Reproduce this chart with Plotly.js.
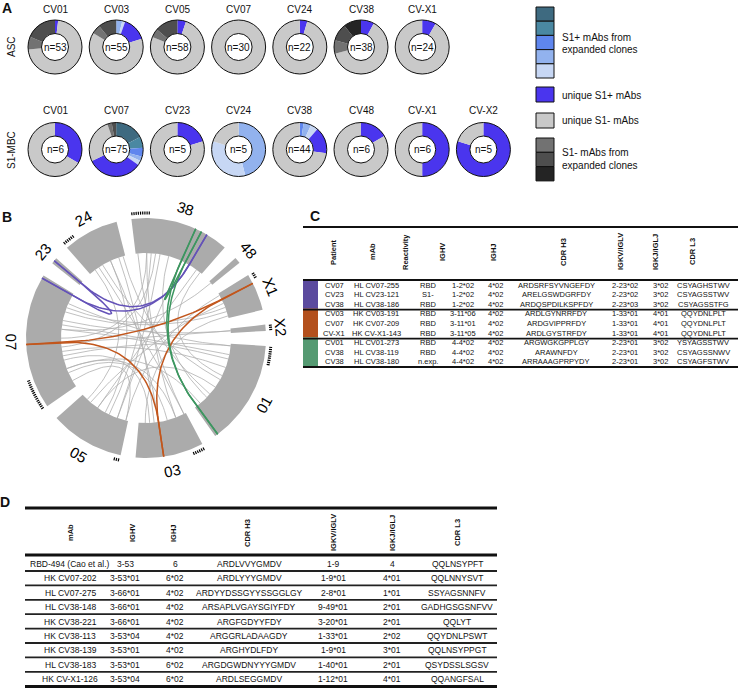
<!DOCTYPE html>
<html><head><meta charset="utf-8">
<script src="https://cdn.plot.ly/plotly-3.0.1.min.js"></script>
<style>body{margin:0;background:#fff}#chart{width:738px;height:688px}</style>
</head><body><div id="chart"></div>
<script>
const W=738,H=688;
const FONT='Liberation Sans, Arial, Helvetica, sans-serif';

// ---------- Panel A data ----------
const ascDonors=['CV01','CV03','CV05','CV07','CV24','CV38','CV-X1'];
const ascN=[53,55,58,30,22,38,24];
const ascValues=[[1,38,4,10],[2,1,8,35,3,6],[3,44,3,8],[30],[1,21],[3,24,3,4,4],[2,22]];
const ascCats=[['u+','u-','e-1','e-2'],['e+4','e+5','u+','u-','e-1','e-2'],['u+','u-','e-1','e-2'],['u-'],['u+','u-'],['u+','u-','e-1','e-2','e-3'],['u+','u-']];
const mbcDonors=['CV01','CV07','CV23','CV24','CV38','CV48','CV-X1','CV-X2'];
const mbcN=[6,75,5,5,44,6,6,5];
const mbcValues=[[2,4],[13,5,4,2,2,25,20,2,2],[1,4],[2.3,1.7,1],[1,2,2,7,32],[1,5],[3,3],[4,1]];
const mbcCats=[['u+','u-'],['e+1','e+2','e+3','e+4','e+5','u+','u-','e-1','e-2'],['u+','u-'],['e+4','e+5','u-'],['e+3','e+4','e+5','u+','u-'],['u+','u-'],['u+','u-'],['u+','u-']];
const catColors={'u+':'#4a35ee','u-':'#c9c9c9','e+1':'#3e6a80','e+2':'#4a88a2','e+3':'#5f86ee','e+4':'#92b2ee','e+5':'#c7d7f4','e-1':'#727272','e-2':'#4e4e4e','e-3':'#242424'};
const legendPlus=['e+1','e+2','e+3','e+4','e+5'];
const legendMinus=['e-1','e-2','e-3'];

// ---------- Panel B data ----------
const chordGroups=['38','48','X1','X2','01','03','05','07','23','24'];
const groupSizes=[16,1,6,1,17,11,12,22,1,9];
// [groupA, slotA, groupB, slotB]
const grayChords=[
 ['07',18,'X1',3],['07',17,'X1',4],['07',15,'X2',0],['07',14,'01',2],['07',13,'01',3],['07',8,'01',5],
 ['07',7,'01',0],['07',4,'03',2],['07',3,'03',4],['07',1,'05',0],['05',2,'38',5],['05',4,'38',3],
 ['05',5,'24',5],['05',7,'38',14],['05',9,'X1',2],['03',0,'24',2],['03',7,'24',7],['03',2,'38',2],
 ['03',8,'07',6],['24',3,'01',8],['24',8,'01',12],['24',1,'05',10],['38',7,'01',13],['38',15,'01',7],
 ['38',2,'07',11],['38',4,'07',9],['48',0,'07',13],['X1',0,'05',0],['X1',5,'03',9],['01',10,'05',7],
 ['01',15,'07',4],['01',0,'07',19],['38',10,'05',2],['38',0,'03',0],['X2',0,'07',10],['24',5,'03',6]];
const purpleChords=[['07',21,'38',12],['23',0,'38',12],['07',21,'23',0]];
const orangeChords=[['07',10,'X1',1],['07',10,'03',6],['X1',1,'03',6]];
const greenChords=[['01',16,'38',10],['01',16,'38',11],['38',10,'38',11]];
const tickSlots={'38':[0,1,2],'24':[0,1],'07':[0,1,2,3,4],'05':[0],'03':[0,1],'01':[0,1,2],'X1':[0],'X2':[0]};

// ---------- Panel C data ----------
const cHeaders=['Patient','mAb','Reactivity','IGHV','IGHJ','CDR H3','IGKV/IGLV','IGKJ/IGLJ','CDR L3'];
const cPatient=['CV07','CV23','CV38','CV03','CV07','CV-X1','CV01','CV38','CV38'];
const cMab=['HL CV07-255','HL CV23-121','HL CV38-186','HK CV03-191','HK CV07-209','HK CV-X1-143','HL CV01-273','HL CV38-119','HL CV38-180'];
const cReact=['RBD','S1-','RBD','RBD','RBD','RBD','RBD','RBD','n.exp.'];
const cIGHV=['1-2*02','1-2*02','1-2*02','3-11*06','3-11*01','3-11*05','4-4*02','4-4*02','4-4*02'];
const cIGHJ=['4*02','4*02','4*02','4*02','4*02','4*02','4*02','4*02','4*02'];
const cCDRH3=['ARDSRFSYVNGEFDY','ARELGSWDGRFDY','ARDQSPDILKSPFDY','ARDLGYNRRFDY','ARDGVIPPRFDY','ARDLGYSTRFDY','ARGWGKGPPLGY','ARAWNFDY','ARRAAAGPRPYDY'];
const cIGKV=['2-23*02','2-23*02','2-23*03','1-33*01','1-33*01','1-33*01','2-23*01','2-23*01','2-23*01'];
const cIGKJ=['3*02','3*02','3*02','4*01','4*01','4*01','3*02','3*02','3*02'];
const cCDRL3=['CSYAGHSTWV','CSYAGSSTWV','CSYAGSSTFG','QQYDNLPLT','QQYDNLPLT','QQYDNLPLT','YSYAGSSTWV','CSYAGSSNWV','CSYAGFSTWV'];
const cGroup=[0,0,0,1,1,1,2,2,2];

// ---------- Panel D data ----------
const dHeaders=['mAb','IGHV','IGHJ','CDR H3','IGKV/IGLV','IGKJ/IGLJ','CDR L3'];
const dMab=['RBD-494 (Cao et al.)','HK CV07-202','HL CV07-275','HL CV38-148','HK CV38-221','HK CV38-113','HK CV38-139','HL CV38-183','HK CV-X1-126'];
const dIGHV=['3-53','3-53*01','3-66*01','3-66*01','3-66*01','3-53*04','3-53*01','3-53*01','3-53*04'];
const dIGHJ=['6','6*02','4*02','4*02','4*02','4*02','4*02','6*02','6*02'];
const dCDRH3=['ARDLVVYGMDV','ARDLYYYGMDV','ARDYYDSSGYYSSGGLGY','ARSAPLVGAYSGIYFDY','ARGFGDYYFDY','ARGGRLADAAGDY','ARGHYDLFDY','ARGDGWDNYYYGMDV','ARDLSEGGMDV'];
const dIGKV=['1-9','1-9*01','2-8*01','9-49*01','3-20*01','1-33*01','1-9*01','1-40*01','1-12*01'];
const dIGKJ=['4','4*01','1*01','2*01','2*01','2*02','3*01','2*01','4*01'];
const dCDRL3=['QQLNSYPFT','QQLNNYSVT','SSYAGSNNFV','GADHGSGSNFVV','QQLYT','QQYDNLPSWT','QQLNSYPPGT','QSYDSSLSGSV','QQANGFSAL'];

// ================= build =================
const traces=[], shapes=[], annotations=[];
function ann(text,x,y,size,extra){
  return Object.assign({text:text,x:x,y:y,xref:'x',yref:'y',showarrow:false,
    font:{family:FONT,size:size,color:'#111'},xanchor:'center',yanchor:'middle'},extra||{});
}
function hline(x0,x1,y,w,c){shapes.push({type:'line',xref:'x',yref:'y',x0:x0,x1:x1,y0:y,y1:y,line:{color:c||'#111',width:w}});}
function rect(x0,y0,x1,y1,fill,lw){shapes.push({type:'rect',xref:'x',yref:'y',x0:x0,x1:x1,y0:y0,y1:y1,fillcolor:fill,line:{color:'#111',width:lw===undefined?1:lw}});}

// ---- Panel A ----
const DR=27, DX0=55, DDX=61.2, ROWY=[47,149.5], TITLEY=[9,110.5];
function donut(cx,cy,vals,cats,n,title,ty){
  traces.push({type:'pie',values:vals,marker:{colors:cats.map(c=>catColors[c]),line:{width:0}},
    sort:false,direction:'clockwise',rotation:0,hole:0.5,textinfo:'none',hoverinfo:'skip',showlegend:false,
    domain:{x:[(cx-DR)/W,(cx+DR)/W],y:[1-(cy+DR)/H,1-(cy-DR)/H]}});
  shapes.push({type:'circle',xref:'x',yref:'y',x0:cx-DR,x1:cx+DR,y0:cy-DR,y1:cy+DR,line:{color:'#111',width:1}});
  shapes.push({type:'circle',xref:'x',yref:'y',x0:cx-DR/2,x1:cx+DR/2,y0:cy-DR/2,y1:cy+DR/2,line:{color:'#111',width:1}});
  annotations.push(ann('n='+n,cx,cy,10));
  annotations.push(ann(title,cx,ty,10));
}
ascDonors.forEach((d,i)=>donut(DX0+DDX*i,ROWY[0],ascValues[i],ascCats[i],ascN[i],d,TITLEY[0]));
mbcDonors.forEach((d,i)=>donut(DX0+DDX*i,ROWY[1],mbcValues[i],mbcCats[i],mbcN[i],d,TITLEY[1]));
annotations.push(ann('ASC',11,47,10,{textangle:-90}));
annotations.push(ann('S1-MBC',11,150,10,{textangle:-90}));
// legend
const LX0=536, LX1=554;
legendPlus.forEach((c,i)=>rect(LX0,7+i*14.2,LX1,7+(i+1)*14.2,catColors[c]));
rect(LX0,87,LX1,102,catColors['u+']);
rect(LX0,113,LX1,128,catColors['u-']);
legendMinus.forEach((c,i)=>rect(LX0,138+i*14.3,LX1,138+(i+1)*14.3,catColors[c]));
const lt=(t,y)=>annotations.push(ann(t,560,y,10,{xanchor:'left'}));
lt('S1+ mAbs from',37); lt('expanded clones',49);
lt('unique S1+ mAbs',95); lt('unique S1- mAbs',120.5);
lt('S1- mAbs from',152); lt('expanded clones',165);

// panel labels
annotations.push(ann('<b>A</b>',7,8,14));
annotations.push(ann('<b>B</b>',7,217,14));
annotations.push(ann('<b>C</b>',315,216,14));
annotations.push(ann('<b>D</b>',5,502,14));

// ---- Panel B ----
const CX=146, CY=338, R_OUT=120, R_IN=85, R_LAB=135, R_TICK=125, UNIT=3, GAP=7.2, START=-7;
const deg=Math.PI/180;
function pt(r,a){return [CX+r*Math.sin(a*deg), CY-r*Math.cos(a*deg)];}
const gStart={}; let acc=START;
chordGroups.forEach((g,i)=>{gStart[g]=acc; acc+=groupSizes[i]*UNIT+GAP;});
function slotAngle(g,k){return gStart[g]+(k+0.5)*UNIT;}
// segments
chordGroups.forEach((g,i)=>{
  const a0=gStart[g], a1=a0+groupSizes[i]*UNIT, xs=[], ys=[];
  const n=Math.max(4,Math.ceil((a1-a0)/1));
  for(let j=0;j<=n;j++){const p=pt(R_OUT,a0+(a1-a0)*j/n); xs.push(p[0]); ys.push(p[1]);}
  for(let j=n;j>=0;j--){const p=pt(R_IN,a0+(a1-a0)*j/n); xs.push(p[0]); ys.push(p[1]);}
  xs.push(xs[0]); ys.push(ys[0]);
  traces.push({type:'scatter',mode:'lines',x:xs,y:ys,fill:'toself',fillcolor:'#ababab',line:{width:0,color:'#ababab'},hoverinfo:'skip',showlegend:false});
  const mid=(a0+a1)/2, lp=pt(R_LAB,mid);
  let ta=((mid+180)%360+360)%360-180;
  if(ta>90) ta-=180; if(ta<-90) ta+=180;
  annotations.push(ann(g,lp[0],lp[1],15,{textangle:ta,font:{family:FONT,size:15,color:'#000'}}));
});
function chordPath(c,rEnd){
  const a=slotAngle(c[0],c[1]), b=slotAngle(c[2],c[3]);
  const p0=pt(R_IN,a), p2=pt(R_IN,b), xs=[], ys=[];
  if(rEnd){const q=pt(rEnd,a); xs.push(q[0]); ys.push(q[1]);}
  for(let j=0;j<=48;j++){const t=j/48, u=1-t;
    xs.push(u*u*p0[0]+2*u*t*CX+t*t*p2[0]); ys.push(u*u*p0[1]+2*u*t*CY+t*t*p2[1]);}
  if(rEnd){const q=pt(rEnd,b); xs.push(q[0]); ys.push(q[1]);}
  return [xs,ys];
}
function chordTrace(list,color,width,rEnd){
  const X=[],Y=[];
  list.forEach(c=>{const p=chordPath(c,rEnd); X.push(...p[0],null); Y.push(...p[1],null);});
  traces.push({type:'scatter',mode:'lines',x:X,y:Y,line:{color:color,width:width},hoverinfo:'skip',showlegend:false});
}
chordTrace(grayChords,'#b0b0b0',0.8,0);
chordTrace(purpleChords,'#6452b8',1.5,R_OUT);
chordTrace(orangeChords,'#c2561c',1.5,R_OUT);
chordTrace(greenChords,'#3d9660',1.5,R_OUT);
// tick marks
(function(){const X=[],Y=[];
  Object.keys(tickSlots).forEach(g=>{tickSlots[g].forEach(k=>{
    const a=slotAngle(g,k);
    for(let j=0;j<3;j++){const aa=a-UNIT/2+UNIT*(j+0.5)/3; const p1=pt(R_TICK-1.5,aa), p2=pt(R_TICK+1.5,aa);
      X.push(p1[0],p2[0],null); Y.push(p1[1],p2[1],null);}
  });});
  traces.push({type:'scatter',mode:'lines',x:X,y:Y,line:{color:'#000',width:1.2},hoverinfo:'skip',showlegend:false});
})();

// ---- Panel C ----
const cColX=[334,376,428,463,495,556,625,660,703];
const cHeadX=[333,372,405,442,493,563,620,655,692];
const cCols=[cPatient,cMab,cReact,cIGHV,cIGHJ,cCDRH3,cIGKV,cIGKJ,cCDRL3];
const groupColors=['#5b4a9e','#b3501d','#559a72'];
const C_X0=303, C_X1=738, C_ROW0=285, C_DY=9.6;
hline(C_X0,C_X1,227,2);
cHeaders.forEach((h,i)=>annotations.push(ann('<b>'+h+'</b>',cHeadX[i],252,7.5,{textangle:-90})));
[0,1,2].forEach(gi=>{
  const rows=cGroup.map((g,i)=>g===gi?i:-1).filter(i=>i>=0);
  const y0=C_ROW0+rows[0]*C_DY-5.2, y1=C_ROW0+rows[rows.length-1]*C_DY+4.6;
  rect(C_X0,y0,318,y1,groupColors[gi],0);
});
hline(C_X0,C_X1,280,2);
hline(C_X0,C_X1,309.6,1.8); hline(C_X0,C_X1,338.6,1.8); hline(C_X0,C_X1,367,1.8);
cCols.forEach((col,ci)=>col.forEach((t,ri)=>annotations.push(ann(t,cColX[ci],C_ROW0+ri*C_DY,7.5))));

// ---- Panel D ----
const dColX=[70,125,175,249,333,392,457];
const dHeadX=[70,132,173,247,333,392,457];
const dCols=[dMab,dIGHV,dIGHJ,dCDRH3,dIGKV,dIGKJ,dCDRL3];
const D_X0=25, D_X1=497, D_ROW0=564, D_DY=14.4;
hline(D_X0,D_X1,508,3);
hline(D_X0,D_X1,555,3);
dHeaders.forEach((h,i)=>annotations.push(ann('<b>'+h+'</b>',dHeadX[i],533,7.5,{textangle:-90})));
dMab.forEach((m,ri)=>{ if(ri<dMab.length-1) hline(D_X0,D_X1,D_ROW0+ri*D_DY+7,1.8,'#222'); });
hline(D_X0,D_X1,686.5,3);
dCols.forEach((col,ci)=>col.forEach((t,ri)=>annotations.push(ann(t,dColX[ci],D_ROW0+ri*D_DY,8.5))));

const layout={width:W,height:H,margin:{l:0,r:0,t:0,b:0},paper_bgcolor:'#fff',plot_bgcolor:'rgba(0,0,0,0)',
  showlegend:false,
  xaxis:{range:[0,W],visible:false,fixedrange:true},
  yaxis:{range:[H,0],visible:false,fixedrange:true},
  shapes:shapes,annotations:annotations};
Plotly.newPlot('chart',traces,layout,{staticPlot:true,displayModeBar:false});
</script></body></html>
